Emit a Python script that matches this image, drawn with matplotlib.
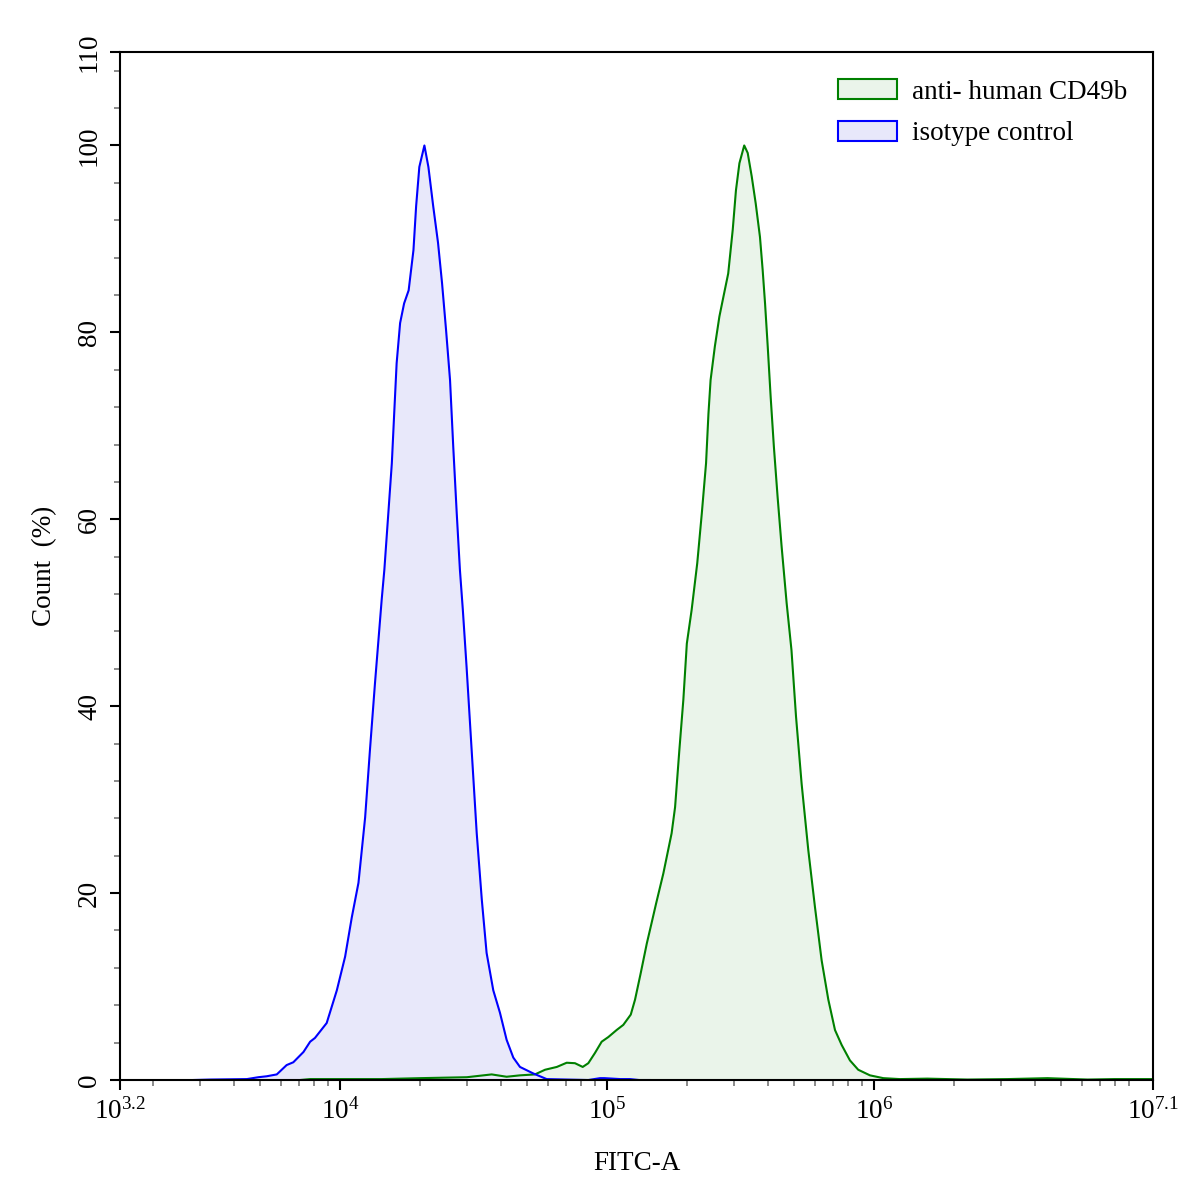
import numpy as np
import matplotlib
matplotlib.use("Agg")
import matplotlib.pyplot as plt
from matplotlib.patches import Patch
from matplotlib.ticker import FixedLocator, NullFormatter

plt.rcParams['font.family'] = ['Liberation Serif', 'DejaVu Serif']
plt.rcParams['mathtext.fontset'] = 'custom'
plt.rcParams['mathtext.rm'] = 'Liberation Serif'
plt.rcParams['mathtext.it'] = 'Liberation Serif:italic'

# ---- data (log10 FITC-A intensity, Count %) ----
iso_log = [3.45, 3.513, 3.651, 3.694, 3.725, 3.763, 3.800, 3.825, 3.863, 3.888, 3.906,
           3.950, 3.988, 4.019, 4.044, 4.069, 4.094, 4.112, 4.131, 4.156, 4.166,
           4.181, 4.194, 4.203, 4.212, 4.225, 4.240, 4.257, 4.275, 4.285, 4.297,
           4.316, 4.331, 4.349, 4.367, 4.382, 4.397, 4.412, 4.424, 4.437, 4.449,
           4.460, 4.474, 4.493, 4.512, 4.531, 4.549, 4.574, 4.599, 4.624, 4.649,
           4.674, 4.724, 4.774, 4.85, 4.93, 4.974, 4.99, 5.05, 5.086, 5.12, 5.16]
iso_cnt = [0.0, 0.05, 0.1, 0.3, 0.4, 0.6, 1.6, 1.9, 3.0, 4.1, 4.5,
           6.1, 9.6, 13.2, 17.4, 21.1, 28.1, 35.3, 42.5, 51.4, 54.6,
           60.7, 66.0, 71.4, 76.7, 81.0, 83.1, 84.5, 88.8, 93.5, 97.7,
           100.0, 97.7, 93.5, 89.6, 85.3, 80.3, 74.9, 67.8, 60.7, 54.6,
           50.3, 44.2, 35.3, 26.4, 19.3, 13.6, 9.6, 7.2, 4.3, 2.4,
           1.4, 0.7, 0.1, 0.05, 0.0, 0.2, 0.2, 0.1, 0.1, 0.0, 0.0]

cd49b_log = [3.85, 3.888, 4.156, 4.300, 4.475, 4.568, 4.624, 4.674, 4.730, 4.768,
             4.812, 4.849, 4.880, 4.909, 4.930, 4.955, 4.980, 5.005, 5.036, 5.061,
             5.089, 5.105, 5.126, 5.149, 5.167, 5.184, 5.211, 5.242, 5.255, 5.271,
             5.286, 5.299, 5.317, 5.338, 5.355, 5.371, 5.380, 5.388, 5.404, 5.421,
             5.436, 5.454, 5.471, 5.483, 5.496, 5.514, 5.527, 5.542, 5.557, 5.573,
             5.583, 5.592, 5.602, 5.613, 5.625, 5.639, 5.654, 5.673, 5.691, 5.708,
             5.729, 5.754, 5.779, 5.804, 5.829, 5.854, 5.879, 5.910, 5.941, 5.985,
             6.035, 6.097, 6.2, 6.35, 6.5, 6.65, 6.8, 6.9, 7.045]
cd49b_cnt = [0.0, 0.1, 0.1, 0.2, 0.3, 0.6, 0.35, 0.5, 0.6, 1.1,
             1.4, 1.85, 1.8, 1.4, 1.8, 2.9, 4.1, 4.6, 5.35, 5.9,
             7.0, 8.6, 11.4, 14.6, 16.8, 18.9, 22.1, 26.4, 29.2, 35.3,
             40.7, 46.7, 50.3, 55.3, 60.6, 66.0, 71.3, 74.9, 78.5, 81.7,
             83.8, 86.3, 91.0, 95.2, 98.1, 100.0, 99.2, 96.7, 93.8, 90.2,
             86.7, 83.1, 78.5, 73.1, 67.8, 62.4, 57.1, 51.0, 46.0, 38.9,
             31.7, 24.6, 18.5, 12.8, 8.6, 5.35, 3.75, 2.1, 1.1, 0.5,
             0.2, 0.1, 0.15, 0.05, 0.1, 0.2, 0.05, 0.1, 0.1]

series_labels = ['anti- human CD49b', 'isotype control']
x_lim_log = [3.176, 7.045]
x_tick_log = [3.176, 4, 5, 6, 7.045]
x_tick_labels = [r'$\mathregular{10^{3.2}}$', r'$\mathregular{10^{4}}$', r'$\mathregular{10^{5}}$',
                 r'$\mathregular{10^{6}}$', r'$\mathregular{10^{7.1}}$']
y_ticks = [0, 20, 40, 60, 80, 100, 110]

iso_x = np.power(10.0, iso_log)
cd_x = np.power(10.0, cd49b_log)

fig = plt.figure(figsize=(11.97, 11.93), dpi=100)
ax = fig.add_axes([0.1003, 0.0947, 0.8629, 0.8617])

green_line = '#008000'
green_fill = '#EAF4EA'
blue_line = '#0000FF'
blue_fill = '#E8E8FA'

ax.fill_between(cd_x, cd49b_cnt, 0, color=green_fill, lw=0, zorder=1)
ax.fill_between(iso_x, iso_cnt, 0, color=blue_fill, lw=0, zorder=1.1)
ax.plot(cd_x, cd49b_cnt, color=green_line, lw=1.5, zorder=2)
ax.plot(iso_x, iso_cnt, color=blue_line, lw=1.5, zorder=2.1)

ax.set_xscale('log')
ax.set_xlim(10 ** x_lim_log[0], 10 ** x_lim_log[1])
ax.set_ylim(0, 110)

ax.xaxis.set_major_locator(FixedLocator([10 ** v for v in x_tick_log]))
ax.set_xticklabels(x_tick_labels)
minors = []
for dec in [3, 4, 5, 6, 7]:
    for m in range(2, 10):
        v = m * 10 ** dec
        if 10 ** x_lim_log[0] < v < 10 ** x_lim_log[1]:
            minors.append(v)
ax.xaxis.set_minor_locator(FixedLocator(minors))
ax.xaxis.set_minor_formatter(NullFormatter())

ax.set_yticks(y_ticks)
ax.set_yticks([v for v in range(0, 110, 4) if v % 20 != 0], minor=True)
for lab in ax.get_yticklabels():
    lab.set_rotation(90)
    lab.set_va('center')

ax.tick_params(axis='both', which='major', direction='out', length=7, width=1.5,
               labelsize=19.5, color='black')
ax.tick_params(axis='both', which='minor', direction='out', length=4, width=1.2,
               color='#777777')
ax.tick_params(axis='x', which='major', pad=6)
ax.tick_params(axis='y', which='major', pad=6)

for s in ax.spines.values():
    s.set_linewidth(1.5)

ax.set_xlabel('FITC-A', fontsize=19.5, labelpad=19)
ax.set_ylabel('Count  (%)', fontsize=19.5, labelpad=14)

handles = [Patch(facecolor=green_fill, edgecolor=green_line, lw=1.5),
           Patch(facecolor=blue_fill, edgecolor=blue_line, lw=1.5)]
ax.legend(handles, series_labels, loc='upper right', frameon=False, fontsize=19.5,
          handlelength=2.2, handleheight=0.75, handletextpad=0.55, labelspacing=0.6,
          bbox_to_anchor=(0.999, 0.997))

fig.savefig('out.png', dpi=100)
